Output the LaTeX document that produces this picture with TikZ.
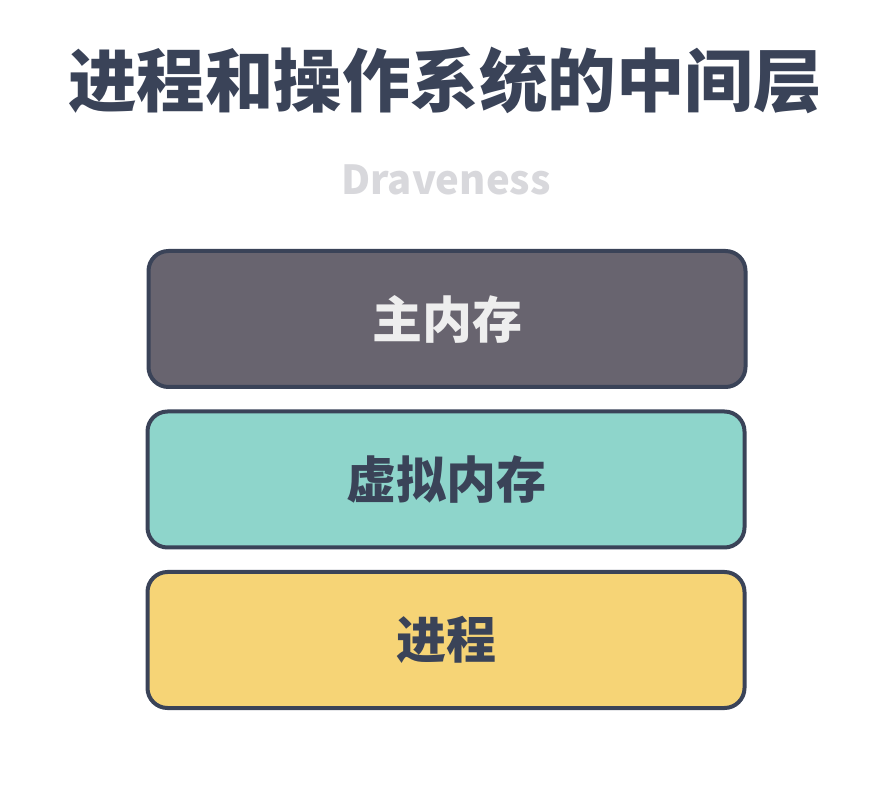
\documentclass[tikz,border=0pt]{standalone}
\usepackage{fontspec}
\newfontfamily\cjk{Noto Sans CJK SC}[BoldFont={Noto Sans CJK SC Black}]
\definecolor{ink}{HTML}{3A4358}
\definecolor{boxgray}{HTML}{68646F}
\definecolor{boxteal}{HTML}{8ED5CB}
\definecolor{boxyellow}{HTML}{F6D476}
\definecolor{subgray}{HTML}{D8D8DC}
\definecolor{lighttext}{HTML}{EEEEEE}
\tikzset{
  layer/.style={draw=ink, line width=4pt, rounded corners=20pt, minimum width=597pt, minimum height=136pt, inner sep=0pt, font=\cjk\bfseries\fontsize{50}{50}\selectfont},
}
\begin{document}
\begin{tikzpicture}[x=1pt,y=1pt]
\useasboundingbox[fill=white] (0,0) rectangle (890,800);
\node[text=ink, font=\cjk\bfseries\fontsize{68.5}{68.5}\selectfont] (title) at (445,720) {进程和操作系统的中间层};
\node[text=subgray, font=\cjk\bfseries\fontsize{40}{40}\selectfont] (sub) at (446,620) {Draveness};
\node[layer, fill=boxgray, text=lighttext] (mem) at (447,481) {主内存};
\node[layer, fill=boxteal, text=ink] (vmem) at (446,320.5) {虚拟内存};
\node[layer, fill=boxyellow, text=ink] (proc) at (446,160) {进程};
\end{tikzpicture}
\end{document}
